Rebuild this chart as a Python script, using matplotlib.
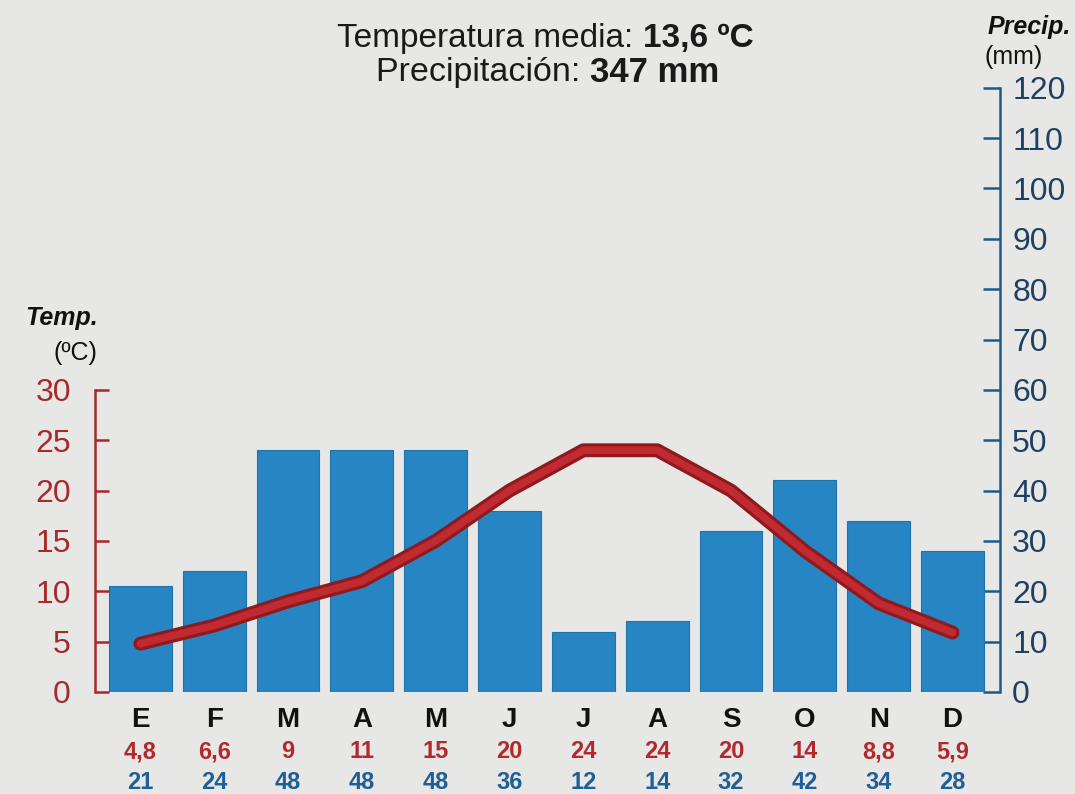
import matplotlib
matplotlib.use("Agg")
import matplotlib.pyplot as plt
import numpy as np

plt.rcParams['font.family'] = ['Liberation Sans', 'DejaVu Sans']

months = ["E", "F", "M", "A", "M", "J", "J", "A", "S", "O", "N", "D"]
temp = [4.8, 6.6, 9, 11, 15, 20, 24, 24, 20, 14, 8.8, 5.9]
precip = [21, 24, 48, 48, 48, 36, 12, 14, 32, 42, 34, 28]
temp_labels = ["4,8", "6,6", "9", "11", "15", "20", "24", "24", "20", "14", "8,8", "5,9"]
precip_labels = [str(p) for p in precip]
temp_ticks = [0, 5, 10, 15, 20, 25, 30]
precip_ticks = list(range(0, 121, 10))

bg = "#e7e7e5"
red = "#a8282c"
blue_txt = "#1d5a8c"
bar_col = "#2785c3"

fig = plt.figure(figsize=(10.75, 7.94), dpi=100, facecolor=bg)
axt = fig.add_axes([0.088, 0.1285, 0.842, 0.761])
axp = axt.twinx()
axt.set_zorder(axp.get_zorder() + 1)
axt.patch.set_visible(False)
axp.patch.set_visible(False)

x = np.arange(len(months))

# Precipitation (right axis)
axp.bar(x, precip, width=0.85, color=bar_col, edgecolor="#1f72aa", linewidth=0.8, zorder=2)
axp.set_xlim(-0.62, 11.64)
axp.set_ylim(0, 120)
axp.yaxis.set_ticks_position('right')
axp.set_yticks(precip_ticks)
axp.set_yticklabels([str(t) for t in precip_ticks], fontsize=23, color="#1f3f63")
axp.tick_params(axis='y', direction='in', length=12, width=1.8, color=blue_txt, pad=9)
for s in ["top", "left", "bottom"]:
    axp.spines[s].set_visible(False)
axp.spines["right"].set_color(blue_txt)
axp.spines["right"].set_linewidth(1.8)

# Temperature (left axis)
axt.set_xlim(-0.62, 11.64)
axt.set_ylim(0, 60)
axt.plot(x, temp, color="#8e1a1e", linewidth=10, solid_capstyle='round', solid_joinstyle='round', zorder=3)
axt.plot(x, temp, color="#c02a30", linewidth=5.5, solid_capstyle='round', solid_joinstyle='round', zorder=4)
axt.yaxis.set_ticks_position('left')
axt.set_yticks(temp_ticks)
axt.set_yticklabels([str(t) for t in temp_ticks], fontsize=23, color=red)
axt.tick_params(axis='y', direction='in', length=10, width=1.8, color=red, pad=17)
axt.set_xticks([])
for s in ["top", "right", "bottom"]:
    axt.spines[s].set_visible(False)
axt.spines["left"].set_color(red)
axt.spines["left"].set_linewidth(1.8)
axt.spines["left"].set_bounds(0, 30)

# Month and value labels
for i in range(len(months)):
    axt.annotate(months[i], (x[i], 0), xycoords=('data', 'axes fraction'), xytext=(0, -20),
                 textcoords='offset points', ha='center', va='center', fontsize=20, fontweight='bold', color="#111111")
    axt.annotate(temp_labels[i], (x[i], 0), xycoords=('data', 'axes fraction'), xytext=(0, -43),
                 textcoords='offset points', ha='center', va='center', fontsize=17, fontweight='bold', color="#b3282d")
    axt.annotate(precip_labels[i], (x[i], 0), xycoords=('data', 'axes fraction'), xytext=(0, -65),
                 textcoords='offset points', ha='center', va='center', fontsize=17, fontweight='bold', color="#1f5f95")

# Header
fig.text(0.598, 0.952, "Temperatura media: ", ha='right', va='center', fontsize=24, color="#1a1a1a")
fig.text(0.598, 0.952, "13,6 ºC", ha='left', va='center', fontsize=24, fontweight='bold', color="#1a1a1a")
fig.text(0.549, 0.909, "Precipitación: ", ha='right', va='center', fontsize=24.5, color="#1a1a1a")
fig.text(0.549, 0.909, "347 mm", ha='left', va='center', fontsize=25, fontweight='bold', color="#1a1a1a")

fig.text(0.091, 0.599, "Temp.", ha='right', va='center', fontsize=18, fontweight='bold', style='italic', color="#111111")
fig.text(0.091, 0.556, "(ºC)", ha='right', va='center', fontsize=18, color="#111111")
fig.text(0.996, 0.966, "Precip.", ha='right', va='center', fontsize=18, fontweight='bold', style='italic', color="#111111")
fig.text(0.916, 0.928, "(mm)", ha='left', va='center', fontsize=18, color="#111111")

fig.savefig("out.png", dpi=100, facecolor=bg)
